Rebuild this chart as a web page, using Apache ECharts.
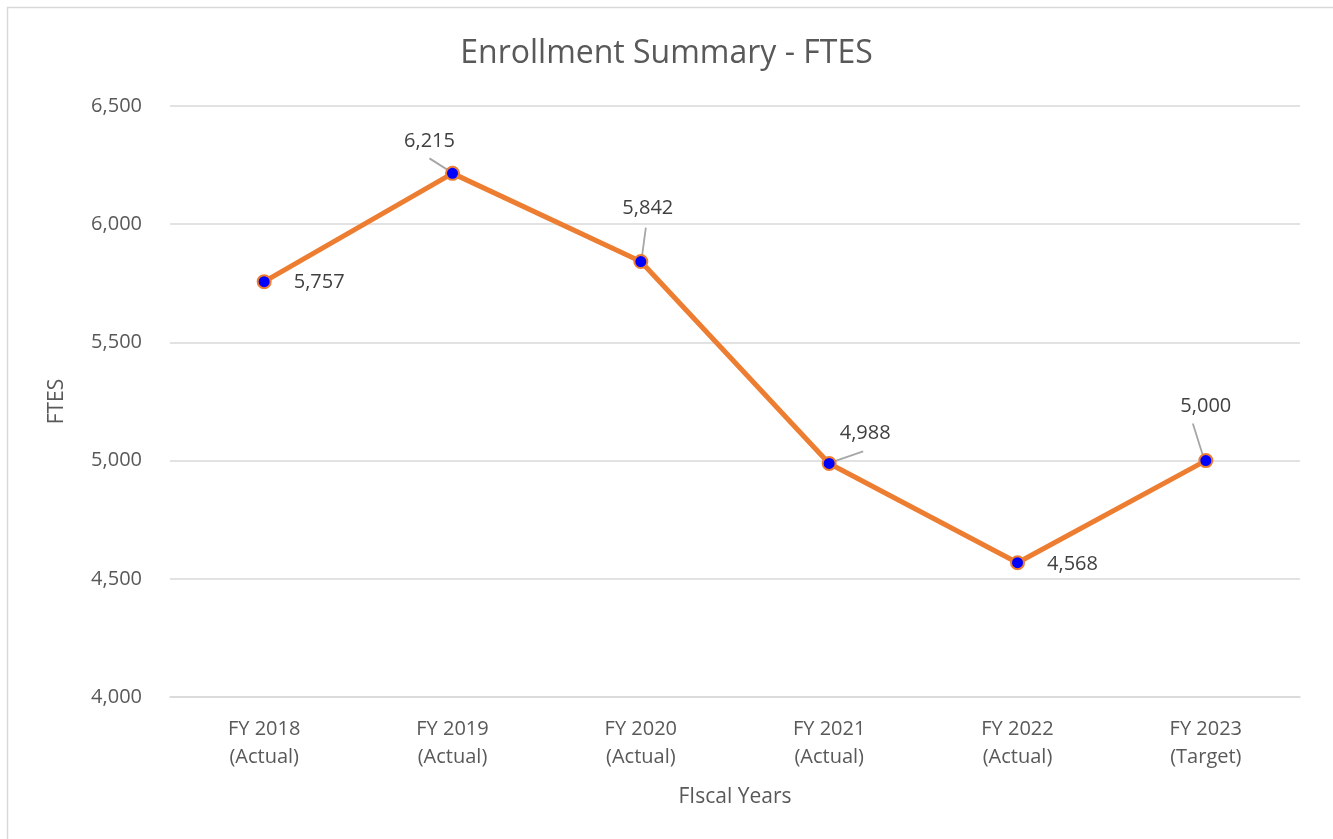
<!DOCTYPE html>
<html>
<head>
<meta charset="utf-8">
<script src="https://cdn.jsdelivr.net/npm/echarts@6/dist/echarts.min.js"></script>
<style>
html,body{margin:0;padding:0;background:#fff;}
#chart{width:1333px;height:839px;}
</style>
</head>
<body>
<div id="chart"></div>
<script>
const categories = ["FY 2018\n(Actual)", "FY 2019\n(Actual)", "FY 2020\n(Actual)", "FY 2021\n(Actual)", "FY 2022\n(Actual)", "FY 2023\n(Target)"];
const ftes = [5757, 6215, 5842, 4988, 4568, 5000];
const yTicks = { min: 4000, max: 6500, interval: 500 };

// label offsets relative to the point (style only)
const labelDx = [55, -23, 7, 36, 55, 0];
const labelDy = [1, -32, -53, -30, 2, -54];
// leader line pixel offsets from point: [startDx, startDy, endDx, endDy] (style only)
const leaders = [null, [-23, -15, -1, -1], [5, -34, 1, -4], [34, -12, 2, -1], null, [-13, -37, -2, -2]];

const font = "Open Sans, Liberation Sans, sans-serif";
const chart = echarts.init(document.getElementById('chart'));
chart.setOption({
  animation: false,
  title: {
    text: 'Enrollment Summary - FTES',
    left: 'center', top: 33,
    textStyle: { fontFamily: font, fontSize: 32, fontWeight: 'normal', color: '#595959' }
  },
  graphic: [{
    type: 'rect', shape: { x: 7.5, y: 7.5, width: 1340, height: 860 },
    style: { fill: 'none', stroke: '#d9d9d9', lineWidth: 1.5 }, silent: true
  }],
  grid: { left: 170, right: 33, top: 106, bottom: 142, containLabel: false },
  xAxis: {
    type: 'category', data: categories, boundaryGap: true,
    name: 'FIscal Years', nameLocation: 'middle', nameGap: 90,
    nameTextStyle: { fontFamily: font, fontSize: 21, color: '#595959' },
    axisLine: { show: true, lineStyle: { color: '#d9d9d9', width: 1.5 } },
    axisTick: { show: false },
    axisLabel: { fontFamily: font, fontSize: 20, color: '#595959', lineHeight: 28, margin: 18 }
  },
  yAxis: {
    type: 'value', min: yTicks.min, max: yTicks.max, interval: yTicks.interval,
    name: 'FTES', nameLocation: 'middle', nameGap: 102, nameRotate: 90,
    nameTextStyle: { fontFamily: font, fontSize: 21, color: '#595959' },
    axisLine: { show: false }, axisTick: { show: false },
    splitLine: { lineStyle: { color: '#d9d9d9', width: 1.5 } },
    axisLabel: {
      fontFamily: font, fontSize: 20, color: '#595959', margin: 28,
      formatter: v => v.toLocaleString('en-US')
    }
  },
  series: [{
    type: 'custom',
    data: ftes.map((v, i) => [i, v]),
    z: 1, silent: true,
    renderItem: (params, api) => {
      const i = params.dataIndex;
      const L = leaders[i];
      if (!L) return null;
      const p = api.coord([api.value(0), api.value(1)]);
      return {
        type: 'line',
        shape: { x1: p[0] + L[0], y1: p[1] + L[1], x2: p[0] + L[2], y2: p[1] + L[3] },
        style: { stroke: '#a6a6a6', lineWidth: 1.8 }
      };
    }
  }, {
    type: 'line', data: ftes,
    lineStyle: { color: '#ED7D31', width: 5 },
    itemStyle: { color: '#0000FF', borderColor: '#ED7D31', borderWidth: 2 },
    symbol: 'circle', symbolSize: 13,
    label: {
      show: true, position: 'inside',
      fontFamily: font, fontSize: 20, color: '#404040',
      formatter: p => p.value.toLocaleString('en-US')
    },
    labelLayout: p => ({ dx: labelDx[p.dataIndex], dy: labelDy[p.dataIndex] }),
    z: 3
  }]
});
</script>
</body>
</html>
